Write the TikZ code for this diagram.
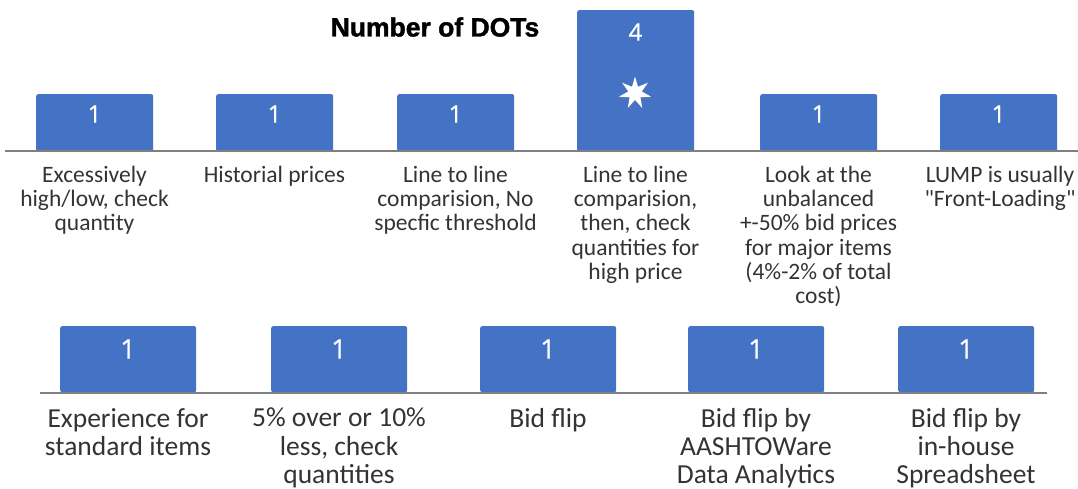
\documentclass[tikz,border=0pt]{standalone}
\usepackage{fontspec}
\setmainfont{Carlito}
\newfontfamily\titlefont[BoldFeatures={FakeBold=1.6}]{Liberation Sans}
\newfontfamily\numberfont[FakeBold=0.8]{Open Sans}
\usetikzlibrary{shapes.geometric,shadows}
\definecolor{barblue}{HTML}{4472C4}
\definecolor{textgray}{HTML}{333333}
\definecolor{axisgray}{HTML}{7F7F7F}
\tikzset{
    bar/.style={fill=barblue, rounded corners=2pt, anchor=north west,
        inner sep=0pt, minimum width=\w pt},
    lowbar/.style={bar, minimum width=\lw pt, minimum height=66pt},
    count/.style={text=white, font=\numberfont\fontsize{24}{26}\selectfont},
    lowcount/.style={text=white, font=\numberfont\fontsize{27}{30}\selectfont},
    label/.style={anchor=north, align=center, inner sep=0pt, text=textgray,
        font=\fontsize{23.5}{24.2}\selectfont},
    lowlabel/.style={label, font=\fontsize{27.5}{28.2}\selectfont},
    axis/.style={draw=axisgray, line width=2pt}
}
\def\w{117}
\def\lw{136}

\begin{document}
\begin{tikzpicture}[x=1pt, y=-1pt]
    \useasboundingbox (0, 0) rectangle (1078, 489);
    % title
    \node (title) at (435, 27) {\titlefont\bfseries\fontsize{26.5}{30}\selectfont Number of DOTs};
    % upper row
    \draw
        node [bar, minimum height=57pt] (b1) at (36, 94) {}
        node [bar, minimum height=57pt] (b2) at (216, 94) {}
        node [bar, minimum height=57pt] (b3) at (397, 94) {}
        node [bar, minimum height=141pt] (b4) at (577, 10) {}
        node [bar, minimum height=57pt] (b5) at (760, 94) {}
        node [bar, minimum height=57pt] (b6) at (940, 94) {}
    ;
    \draw
        [axis]
        (5, 151) -- (1078, 151)
    ;
    \draw
        node [count] (n1) at (94.5, 114) {1}
        node [count] (n2) at (274.5, 114) {1}
        node [count] (n3) at (455.5, 114) {1}
        node [count] (n4) at (635.5, 32) {4}
        node [count] (n5) at (818.5, 114) {1}
        node [count] (n6) at (998.5, 114) {1}
    ;
    \node [star, star points=7, star point ratio=2.4, minimum size=33pt,
        inner sep=0pt, fill=white,
        drop shadow={opacity=0.35, shadow xshift=1pt, shadow yshift=-2pt}]
        (star) at (635, 93) {};
    \draw
        node [label] (t1) at (94.5, 166) {Excessively\\high/low, check\\quantity}
        node [label] (t2) at (274.5, 166) {Historial prices}
        node [label] (t3) at (455.5, 166) {Line to line\\comparision, No\\specfic threshold}
        node [label] (t4) at (635.5, 166) {Line to line\\comparision,\\then, check\\quantities for\\high price}
        node [label] (t5) at (818.5, 166) {Look at the\\unbalanced\\+-50\% bid prices\\for major items\\(4\%-2\% of total\\cost)}
        node [label] (t6) at (1000, 166) {LUMP is usually\\\textquotedbl Front-Loading\textquotedbl}
    ;
    % lower row
    \draw
        node [lowbar] (b7) at (60, 326) {}
        node [lowbar] (b8) at (271, 326) {}
        node [lowbar] (b9) at (480, 326) {}
        node [lowbar] (b10) at (688, 326) {}
        node [lowbar] (b11) at (898, 326) {}
    ;
    \draw
        [axis]
        (40, 393) -- (1047, 393)
    ;
    \draw
        node [lowcount] (n7) at (128, 349) {1}
        node [lowcount] (n8) at (339, 349) {1}
        node [lowcount] (n9) at (548, 349) {1}
        node [lowcount] (n10) at (756, 349) {1}
        node [lowcount] (n11) at (966, 349) {1}
    ;
    \draw
        node [lowlabel] (t7) at (128, 408) {Experience for\\standard items}
        node [lowlabel] (t8) at (339, 408) {5\% over or 10\%\\less, check\\quantities}
        node [lowlabel] (t9) at (548, 408) {Bid flip}
        node [lowlabel] (t10) at (756, 408) {Bid flip by\\AASHTOWare\\Data Analytics}
        node [lowlabel] (t11) at (966, 408) {Bid flip by\\in-house\\Spreadsheet}
    ;
\end{tikzpicture}
\end{document}
